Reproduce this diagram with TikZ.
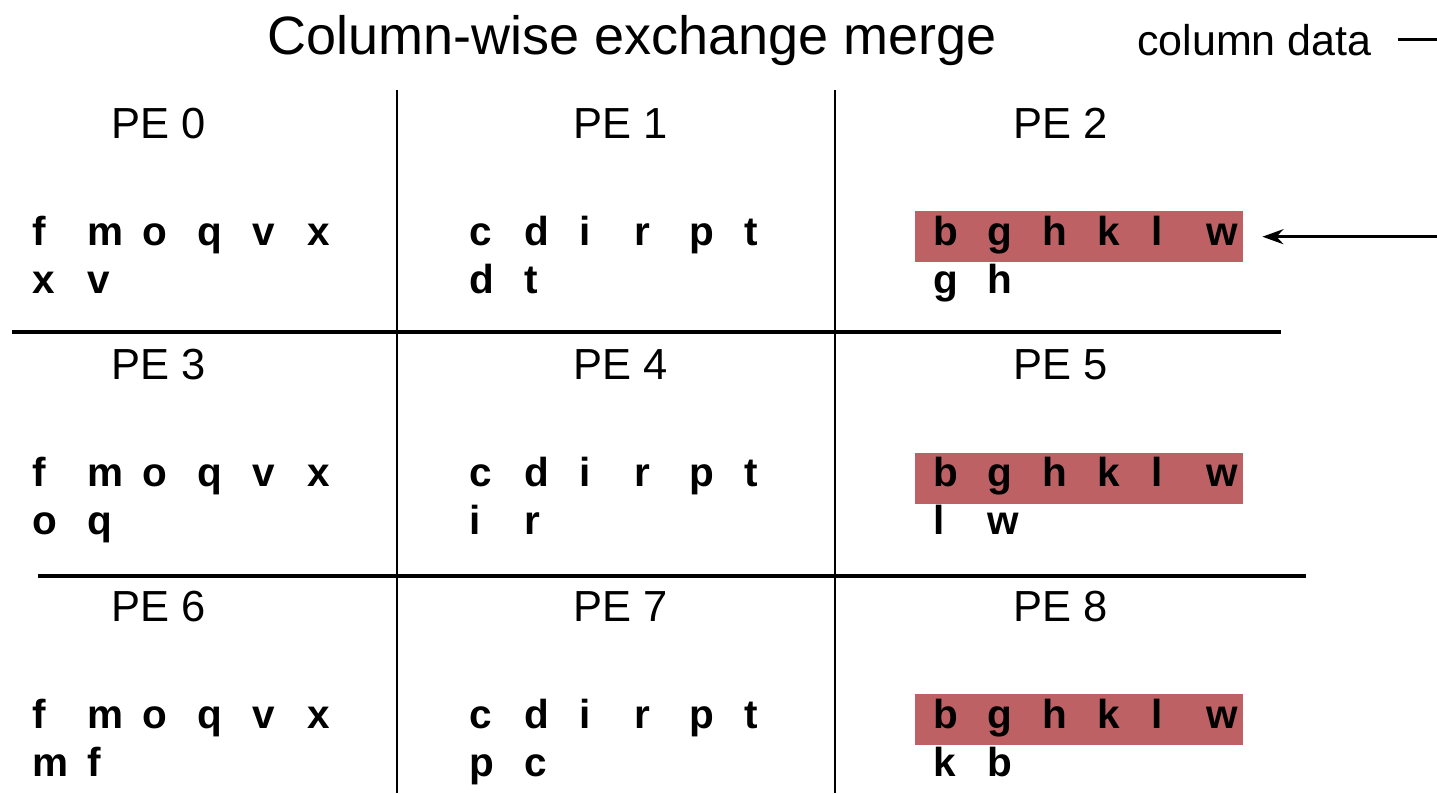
\documentclass[tikz,border=0pt]{standalone}
\usepackage{fontspec}
\setmainfont{Liberation Sans}
\usetikzlibrary{arrows.meta}
\definecolor{boxred}{RGB}{189,97,101}
\begin{document}
\begin{tikzpicture}[x=1pt,y=-1pt,
  titletext/.style={font=\fontsize{54}{60}\selectfont, inner sep=0pt, anchor=base},
  sidetext/.style={font=\fontsize{43}{50}\selectfont, inner sep=0pt, anchor=base west},
  pelabel/.style={font=\fontsize{43.5}{50}\selectfont, inner sep=0pt, anchor=base},
  letter/.style={font=\fontsize{40.5}{46}\selectfont\bfseries, inner sep=0pt, anchor=base west},
  vline/.style={line width=2.2pt},
  hline/.style={line width=3.2pt},
  colbox/.style={fill=boxred, draw=none, inner sep=0pt, minimum width=328pt, minimum height=51pt, anchor=north west},
  conn/.style={line width=3pt, -{Stealth[length=21pt,width=15pt]}}
]
\useasboundingbox (0,0) rectangle (1437,793);
\clip (0,0) rectangle (1437,793);

% title and side label
\node[titletext] (title) at (632,54) {Column-wise exchange merge};
\node[sidetext] (cd) at (1137,55) {column data};

% grid lines
\draw[vline] (397,90) -- (397,793);
\draw[vline] (835,90) -- (835,793);
\draw[hline] (12,332) -- (1281,332);
\draw[hline] (38,576) -- (1306,576);

% PE labels
\foreach \r in {0,1,2}{
  \foreach \c/\cx in {0/159,1/621,2/1061}{
    \pgfmathtruncatemacro{\pe}{3*\r+\c}
    \node[pelabel] (pe\pe) at (\cx,{138+241.5*\r}) {PE \pe};
  }
}

% highlighted column data boxes
\foreach \r in {0,1,2}{
  \node[colbox] (box\r) at (915,{211+241.5*\r}) {};
}

% top rows of letters
\foreach \r in {0,1,2}{
  \foreach \L [count=\i from 0] in {f,m,o,q,v,x}{
    \node[letter] (a\r\i) at ({32+55*\i},{245+241.5*\r}) {\L};
  }
  \foreach \L [count=\i from 0] in {c,d,i,r,p,t}{
    \node[letter] (b\r\i) at ({469+55*\i},{245+241.5*\r}) {\L};
  }
  \foreach \L [count=\i from 0] in {b,g,h,k,l,w}{
    \node[letter] (c\r\i) at ({933+54.6*\i},{245+241.5*\r}) {\L};
  }
}

% second rows of letters
\foreach \r/\A/\B/\C/\D/\E/\F in {0/x/v/d/t/g/h, 1/o/q/i/r/l/w, 2/m/f/p/c/k/b}{
  \node[letter] (sa\r0) at (32,{293+241.5*\r}) {\A};
  \node[letter] (sa\r1) at (87,{293+241.5*\r}) {\B};
  \node[letter] (sb\r0) at (469,{293+241.5*\r}) {\C};
  \node[letter] (sb\r1) at (524,{293+241.5*\r}) {\D};
  \node[letter] (sc\r0) at (933,{293+241.5*\r}) {\E};
  \node[letter] (sc\r1) at (987.6,{293+241.5*\r}) {\F};
}

% connector from the column data label to the first box
\coordinate (turn) at (1470,0);
\draw[conn, shorten <=26pt, shorten >=19pt] (cd.east) -| (turn |- box0.east) -- (box0.east);
\end{tikzpicture}
\end{document}
